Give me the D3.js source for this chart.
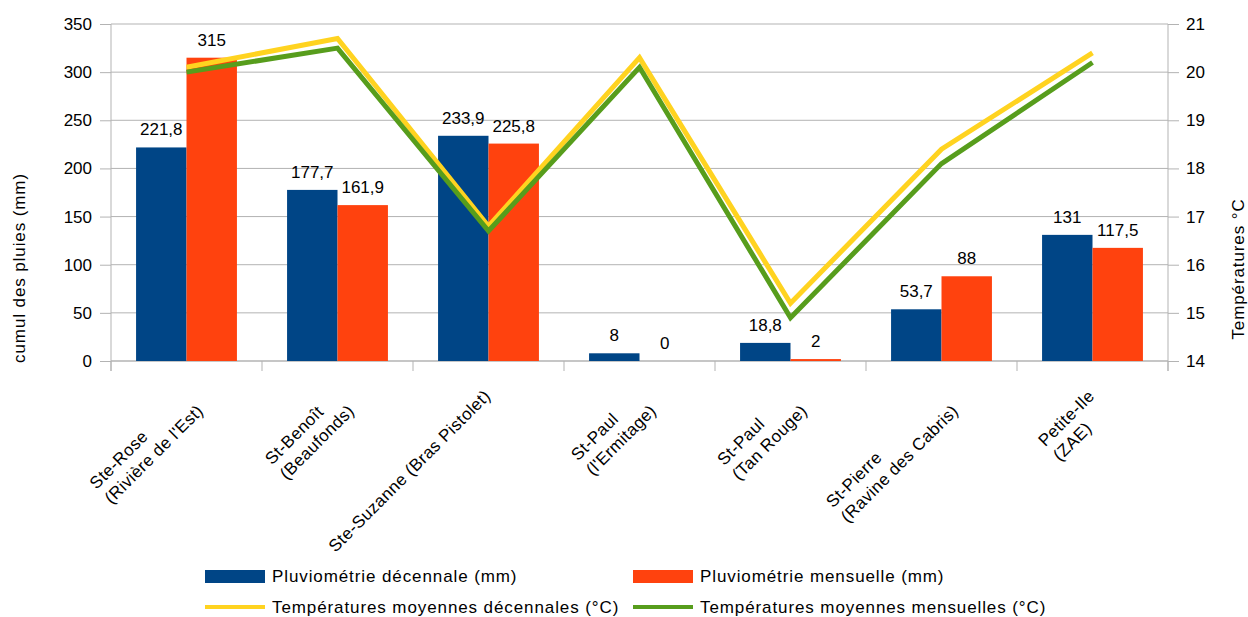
<!DOCTYPE html>
<html>
<head>
<meta charset="utf-8">
<script src="https://cdn.jsdelivr.net/npm/d3@7"></script>
<style>
  body { margin: 0; background: #fff; }
  text { font-family: "Liberation Sans", Arial, sans-serif; fill: #000; }
</style>
</head>
<body>
<svg width="1248" height="617"></svg>
<script>
var categories = [
  "Ste-Rose\n(Rivière de l'Est)",
  "St-Benoît\n(Beaufonds)",
  "Ste-Suzanne (Bras Pistolet)",
  "St-Paul\n(l'Ermitage)",
  "St-Paul\n(Tan Rouge)",
  "St-Pierre\n(Ravine des Cabris)",
  "Petite-Ile\n(ZAE)"
];
var pluvioDecennale = [221.8, 177.7, 233.9, 8, 18.8, 53.7, 131];
var pluvioMensuelle = [315, 161.9, 225.8, 0, 2, 88, 117.5];
var tempDecennale = [20.1, 20.7, 16.8, 20.3, 15.2, 18.4, 20.4];
var tempMensuelle = [20.0, 20.5, 16.7, 20.1, 14.9, 18.1, 20.2];
var leftTicks = [0, 50, 100, 150, 200, 250, 300, 350];
var rightTicks = [14, 15, 16, 17, 18, 19, 20, 21];

var barSeries = [
  { name: "Pluviométrie décennale (mm)", values: pluvioDecennale, color: "#004586" },
  { name: "Pluviométrie mensuelle (mm)", values: pluvioMensuelle, color: "#ff420e" }
];
var lineSeries = [
  { name: "Températures moyennes décennales (°C)", values: tempDecennale, color: "#ffd320" },
  { name: "Températures moyennes mensuelles (°C)", values: tempMensuelle, color: "#579d1c" }
];

var svg = d3.select("svg"),
    pLeft = 111, pRight = 1168, pTop = 24, pBottom = 361;

var fmt = function(v) { return String(v).replace(".", ","); };

var x0 = d3.scaleBand()
    .domain(d3.range(categories.length))
    .range([pLeft, pRight]);

var x1 = d3.scaleBand()
    .domain(d3.range(barSeries.length))
    .range([x0.bandwidth() * 0.166, x0.bandwidth() * 0.834]);

var y = d3.scaleLinear().domain([0, 350]).range([pBottom, pTop]);
var y2 = d3.scaleLinear().domain([14, 21]).range([pBottom, pTop]);

// grid
svg.append("g")
  .selectAll("line")
  .data(leftTicks)
  .join("line")
    .attr("x1", pLeft).attr("x2", pRight)
    .attr("y1", d => y(d)).attr("y2", d => y(d))
    .attr("stroke", "#b3b3b3");

// left axis
var gY = svg.append("g")
    .attr("transform", "translate(" + pLeft + ",0)")
    .call(d3.axisLeft(y).tickValues(leftTicks).tickSize(11).tickPadding(8));

// right axis
var gY2 = svg.append("g")
    .attr("transform", "translate(" + pRight + ",0)")
    .call(d3.axisRight(y2).tickValues(rightTicks).tickFormat(d3.format("d"))
      .tickSize(11).tickPadding(7));

[gY, gY2].forEach(function(g) {
  g.select(".domain").attr("stroke", "#b3b3b3").attr("d",
    "M0," + pTop + "V" + (pBottom + 10));
  g.selectAll(".tick line").attr("stroke", "#b3b3b3");
  g.selectAll(".tick text")
    .attr("font-size", 17)
    .attr("font-family", "Liberation Sans, Arial, sans-serif")
    .attr("fill", "#000");
});

// bottom axis: boundary ticks
svg.append("line")
    .attr("x1", pLeft).attr("x2", pRight)
    .attr("y1", pBottom).attr("y2", pBottom)
    .attr("stroke", "#b3b3b3");
svg.append("g")
  .selectAll("line")
  .data(d3.range(categories.length + 1))
  .join("line")
    .attr("x1", d => pLeft + d * x0.step()).attr("x2", d => pLeft + d * x0.step())
    .attr("y1", pBottom).attr("y2", pBottom + 10)
    .attr("stroke", "#b3b3b3");

// bars
var groups = svg.append("g")
  .selectAll("g")
  .data(barSeries)
  .join("g")
    .attr("fill", d => d.color);

groups.selectAll("rect")
  .data((s, si) => s.values.map((v, i) => ({ v: v, i: i, si: si })))
  .join("rect")
    .attr("x", d => x0(d.i) + x1(d.si))
    .attr("width", x1.bandwidth())
    .attr("y", d => y(d.v))
    .attr("height", d => pBottom - y(d.v));

groups.selectAll("text")
  .data((s, si) => s.values.map((v, i) => ({ v: v, i: i, si: si })))
  .join("text")
    .attr("x", d => x0(d.i) + x1(d.si) + x1.bandwidth() / 2)
    .attr("y", d => y(d.v) - 12)
    .attr("text-anchor", "middle")
    .attr("font-size", 17)
    .text(d => fmt(d.v));

// temperature lines
var line = d3.line()
    .x((d, i) => x0(i) + x0.bandwidth() / 2)
    .y(d => y2(d));

svg.append("g")
  .selectAll("path")
  .data(lineSeries)
  .join("path")
    .attr("d", d => line(d.values))
    .attr("fill", "none")
    .attr("stroke", d => d.color)
    .attr("stroke-width", 5);

// category labels, rotated
var lh = 21;
categories.forEach(function(c, i) {
  var lines = c.split("\n");
  var t = svg.append("text")
      .attr("font-size", 17)
      .attr("letter-spacing", 0.4)
      .attr("transform", "translate(" + (x0(i) + x0.bandwidth() / 2 + 3) + ",397) rotate(-45)");
  var spans = t.selectAll("tspan")
    .data(lines)
    .join("tspan")
      .attr("y", (d, j) => j * lh)
      .text(d => d);
  var w = d3.max(spans.nodes(), n => n.getComputedTextLength());
  spans.attr("x", -w);
});

// axis titles
svg.append("text")
    .attr("transform", "translate(25,268) rotate(-90)")
    .attr("text-anchor", "middle")
    .attr("font-size", 17)
    .attr("letter-spacing", 0.9)
    .text("cumul des pluies (mm)");

svg.append("text")
    .attr("transform", "translate(1244,269) rotate(-90)")
    .attr("text-anchor", "middle")
    .attr("font-size", 17)
    .attr("letter-spacing", 0.9)
    .text("Températures °C");

// legend
var legX = [205, 633];
barSeries.forEach(function(s, i) {
  svg.append("rect")
      .attr("x", legX[i]).attr("y", 570)
      .attr("width", 60).attr("height", 13)
      .attr("fill", s.color);
  svg.append("text")
      .attr("x", legX[i] + 67).attr("y", 582)
      .attr("font-size", 17)
      .attr("letter-spacing", 0.9)
      .text(s.name);
});
lineSeries.forEach(function(s, i) {
  svg.append("line")
      .attr("x1", legX[i]).attr("x2", legX[i] + 60)
      .attr("y1", 607).attr("y2", 607)
      .attr("stroke", s.color)
      .attr("stroke-width", 4);
  svg.append("text")
      .attr("x", legX[i] + 67).attr("y", 613)
      .attr("font-size", 17)
      .attr("letter-spacing", 0.9)
      .text(s.name);
});
</script>
</body>
</html>
